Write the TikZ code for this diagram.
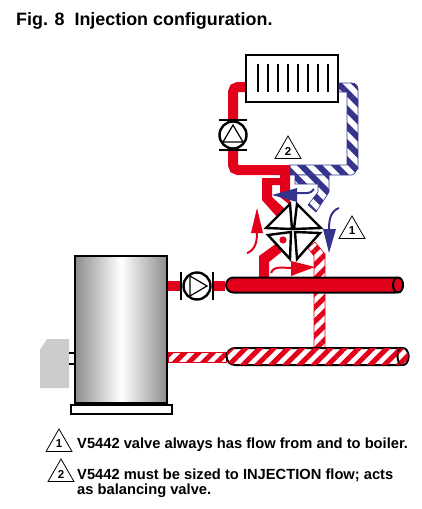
\documentclass[tikz,border=0pt]{standalone}
\usepackage{fontspec}
\setmainfont{Liberation Sans}
\usetikzlibrary{positioning,patterns.meta,shapes.geometric}
\definecolor{pipered}{HTML}{E2001A}
\definecolor{pipeblue}{HTML}{35338C}
\begin{document}
\begin{tikzpicture}[x=1pt,y=-1pt,
redpipe/.style={draw=pipered,line width=10pt,rounded corners=5pt},
redhatch/.style={draw=pipered,line width=.6pt,fill=white,postaction={pattern={Lines[angle=45,distance=10pt,line width=5pt]},pattern color=pipered}},
bluehatch/.style={draw=pipeblue,line width=.6pt,fill=white,postaction={pattern={Lines[angle=-45,distance=12pt,line width=6pt]},pattern color=pipeblue}},
flowred/.style={fill=pipered,draw=none},
flowblue/.style={fill=pipeblue,draw=none},
tailred/.style={draw=pipered,line width=2pt},
tailblue/.style={draw=pipeblue,line width=2pt},
pumpc/.style={draw,circle,line width=2.4pt,fill=white,minimum size=27pt,inner sep=0pt},
bar/.style={line width=2.2pt},
vane/.style={draw,line width=2.4pt,fill=white,line join=miter},
tri/.style={draw,regular polygon,regular polygon sides=3,minimum size=30pt,inner sep=0pt,line width=.8pt,fill=white,font=\bfseries\fontsize{11.5}{12}\selectfont},
note/.style={anchor=west,align=left,font=\bfseries\fontsize{14.7}{15}\selectfont,inner sep=0pt},
header/.style={draw,line width=2pt,rounded corners=7.5pt,minimum height=15pt,inner sep=0pt}]
\useasboundingbox (0,0) rectangle (421,509);
\node[anchor=west,inner sep=0pt,font=\bfseries\fontsize{17.9}{20}\selectfont](title) at (16,20.5) {Fig. 8\hspace{5pt} Injection configuration.};
\node[draw,line width=2pt,fill=white,minimum width=92pt,minimum height=47pt,inner sep=0pt](radiator) at (292,78.5) {};
\foreach \i in {0,...,7}\draw[line width=1.8pt] (258+\i*10,64)--(258+\i*10,92);
\node[pumpc](pumpa) at (233,135) {};
\node[draw,line width=2pt,minimum width=92pt,minimum height=147pt,inner sep=0pt,left color=black!45,right color=black!45,middle color=white](boiler) at (121,329.5) {};
\node[draw,line width=2pt,fill=white,minimum width=101pt,minimum height=9pt,inner sep=0pt,below=0pt of boiler](base) {};
\fill[black!20] (47,339)--(69,339)--(69,388)--(40,388)--(40,350)--cycle;
\coordinate (burner) at (69,353);
\draw[line width=1.5pt] (burner)--++(6,0) (69,364)--(75,364);
\draw[bluehatch] (290,165)--(347,165)--(347,92)--(radiator.east|-0,92)--(radiator.east|-0,83)--(352,83)to[out=0,in=90](358,89)--(358,169)to[out=90,in=0](352,175)--(290,175)--cycle;
\draw[bluehatch] (295,175)--(329,175)--(329,192)--(316,212)--(308,205)--(318,192)--(318,184)--(295,184)--cycle;
\draw[redpipe] (radiator.west|-0,87)--(233,87)--(pumpa.north);
\draw[redpipe] (pumpa.south)--(233,170)--(290,170);
\fill[pipered] (262,178)--(280,178)--(280,175)--(290,175)--(290,205)--(280,197)--(280,185)--(272,185)--(272,197)--(286,210)--(278,218)--(262,200)--cycle;
\fill[pipered] (277,243)--(284,250)--(269,262)--(269,277)--(259,277)--(259,256)--cycle;
\draw[redhatch] (315,242)--(325,254)--(325,348)--(314,348)--(314,256)--(308,248)--cycle;
\node[header,fill=pipered,minimum width=177pt](hot) at (314.5,285) {};
\node[pumpc](pumpb) at (197,286) {};
\draw[redpipe,rounded corners=0pt] (boiler.east|-pumpb)--(pumpb.west);
\draw[redpipe,rounded corners=0pt] (pumpb.east)--(hot.west|-pumpb);
\path[redhatch] (boiler.east|-0,352)--(226,352)--(226,362)--(boiler.east|-0,362)--cycle;
\node[header,redhatch,draw=black,line width=2pt,minimum width=182pt,minimum height=17pt,rounded corners=8.5pt](cold) at (317.5,356.5) {};
\draw[line width=2pt,fill=pipered] (398,285) ellipse (5 and 7.5);
\draw[redhatch,draw=black,line width=2pt] (403,356.5) ellipse (5.5 and 8.5);
\draw[bar] (219,120)--(247,120) (219,150)--(247,150);
\draw[bar] (181,272)--(181,300) (213,272)--(213,300);
\draw[line width=1.2pt] (233,125)--(243,142)--(223,142)--cycle;
\draw[line width=1.2pt] (207,286)--(190,276)--(190,296)--cycle;
\draw[vane] (290,204)--(266,228)--(292,229)--cycle;
\draw[vane] (297,204)--(321,228)--(294,229)--cycle;
\draw[vane] (268,235)--(291,232)--(290,259)--cycle;
\draw[vane] (295,232)--(297,259)--(320,233)--cycle;
\fill[pipered] (283,240) circle (3.6);
\fill[flowred] (257,208)--(263,233)--(251,233)--cycle;
\draw[tailred] (257,233)to[out=-90,in=20](247,253);
\fill[flowred] (315,267)--(291,261)--(291,276)--cycle;
\draw[tailred] (291,268)to[out=180,in=70](271,273);
\fill[flowblue] (272,195)--(297,188)--(297,202)--cycle;
\draw[tailblue] (297,193)to[out=0,in=-120](314,189);
\fill[flowblue] (329,253)--(323,229)--(336,229)--cycle;
\draw[tailblue] (329,229)to[out=90,in=200](339,208);
\node[tri](markb) at (288,151) {2};
\node[tri](marka) at (352,231) {1};
\node[tri](notea) at (59,444) {1};
\node[note](texta) at (77,445) {V5442 valve always has flow from and to boiler.};
\node[tri](noteb) at (61,474) {2};
\node[note,anchor=north west](textb) at (77,469) {V5442 must be sized to INJECTION flow; acts\\as balancing valve.};
\end{tikzpicture}
\end{document}
